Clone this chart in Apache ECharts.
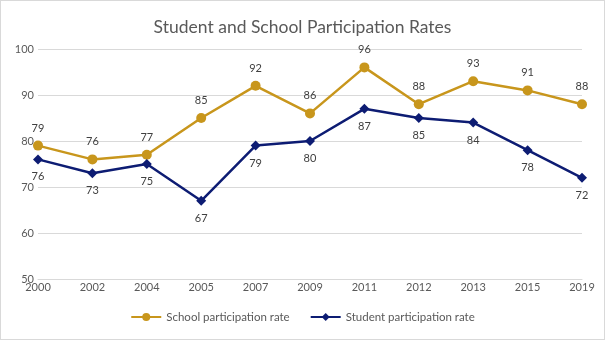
<!DOCTYPE html>
<html><head><meta charset="utf-8">
<script src="https://cdn.jsdelivr.net/npm/echarts@6/dist/echarts.min.js"></script>
<style>html,body{margin:0;padding:0;background:#fff}#c{width:603px;height:338px;border:1px solid #d9d9d9}</style>
</head><body><div id="c"></div>
<script>
const years = ['2000','2002','2004','2005','2007','2009','2011','2012','2013','2015','2019'];
const schoolRate = [79,76,77,85,92,86,96,88,93,91,88];
const studentRate = [76,73,75,67,79,80,87,85,84,78,72];
const yTicks = {min:50, max:100, interval:10};
const font = 'Lato';
const chart = echarts.init(document.getElementById('c'));
chart.setOption({
  animation:false,
  textStyle:{fontFamily:font},
  title:{text:'Student and School Participation Rates',left:'center',top:12,textStyle:{fontFamily:font,fontSize:17.5,fontWeight:'normal',color:'#595959'}},
  grid:{left:37,right:22,top:48,bottom:60},
  legend:{bottom:11,left:'center',itemGap:20,itemWidth:30,itemHeight:10,textStyle:{fontFamily:font,fontSize:11.5,color:'#595959'},
    data:['School participation rate','Student participation rate']},
  xAxis:{type:'category',data:years,boundaryGap:false,
    axisLine:{lineStyle:{color:'#d9d9d9'}},axisTick:{show:false},
    axisLabel:{color:'#595959',fontSize:11,margin:3,fontFamily:font}},
  yAxis:{type:'value',min:yTicks.min,max:yTicks.max,interval:yTicks.interval,
    axisLine:{show:false},axisTick:{show:false},
    splitLine:{lineStyle:{color:'#d9d9d9'}},
    axisLabel:{color:'#595959',fontSize:11,margin:4,fontFamily:font}},
  series:[
    {name:'School participation rate',type:'line',data:schoolRate,symbol:'circle',symbolSize:10,
      itemStyle:{color:'#C8961C'},lineStyle:{width:2.5,color:'#C8961C'},
      label:{show:true,position:'top',distance:7,color:'#404040',fontSize:11,fontFamily:font}},
    {name:'Student participation rate',type:'line',data:studentRate,symbol:'diamond',symbolSize:10,
      itemStyle:{color:'#0D1C73'},lineStyle:{width:2.5,color:'#0D1C73'},
      label:{show:true,position:'bottom',distance:7,color:'#404040',fontSize:11,fontFamily:font}}
  ]
});
</script></body></html>
